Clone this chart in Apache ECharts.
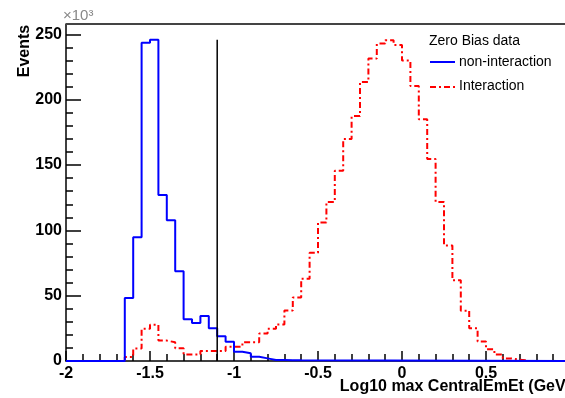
<!DOCTYPE html>
<html>
<head>
<meta charset="utf-8">
<script src="https://cdn.jsdelivr.net/npm/echarts@6/dist/echarts.min.js"></script>
<style>
html,body{margin:0;padding:0;background:#fff;}
#c{width:565px;height:398px;}
</style>
</head>
<body>
<div id="c"></div>
<script>
// ---- data (values in units of 10^3 events) ----
const binWidth = 0.05;
const xMin = -2;
const xMax = 1;
const xTicks = [-2, -1.5, -1, -0.5, 0, 0.5];
const yTicks = [0, 50, 100, 150, 200, 250];

const nonInteractionStart = -1.65;
const nonInteractionValues = [48.2, 94.8, 243.6, 246, 127, 107.7, 68.7, 32, 29, 34.5,
  25, 19, 14.8, 7, 6, 3.3, 2, 0.8, 0.7, 0.6, 0.5];

const interactionStart = -1.65;
const interactionValues = [3, 9.5, 24.6, 27.7, 15.6, 14.4, 9.8, 5, 5, 7.7,
  7.7, 7.7, 11, 11, 14.4, 14.4, 21, 24.6, 28, 38.7,
  48.7, 63, 82.8, 106, 121.8, 145.6, 170, 187.5, 213.6, 231.5,
  243, 245.6, 242, 230, 210.5, 185, 154.6, 121.8, 88.5, 61.8,
  38.5, 25, 14.9, 9, 5, 2, 1, 0.5];

const cutX = -1.1;
const cutTop = 246;

// ---- build step points from bins ----
function r(v){ return Math.round(v*1000)/1000; }
function histPoints(start, vals, extendFrom, extendTo){
  const pts = [];
  if (extendFrom !== undefined) pts.push([extendFrom, 0]);
  else pts.push([start, 0]);
  vals.forEach((v,i)=>pts.push([r(start + i*binWidth), v]));
  pts.push([r(start + vals.length*binWidth), 0]);
  if (extendTo !== undefined) pts.push([extendTo, 0]);
  return pts;
}

const chart = echarts.init(document.getElementById('c'), null, {renderer:'canvas'});
const FONT = 'Liberation Sans, Arial, Helvetica, sans-serif';
const RED_DASH = [6,3,2,3];

chart.setOption({
  animation:false,
  backgroundColor:'#fff',
  grid:{left:66, top:24, width:504, height:337, show:false, outerBoundsMode:'none', containLabel:false},
  xAxis:{
    type:'value', min:xMin, max:xMax, interval:0.5,
    axisLine:{lineStyle:{color:'#000', width:1.5}},
    axisTick:{inside:true, length:10, lineStyle:{color:'#000', width:1.5}},
    minorTick:{show:true, splitNumber:5, length:7, lineStyle:{color:'#000', width:1.5}},
    splitLine:{show:false},
    axisLabel:{margin:5, fontSize:16, fontWeight:'bold', color:'#000', fontFamily:FONT,
      formatter:function(v){ return xTicks.some(t=>Math.abs(t-v)<1e-6) ? String(v) : ''; }}
  },
  yAxis:{
    type:'value', min:0, max:258, interval:50,
    axisLine:{show:true, onZero:false, lineStyle:{color:'#000', width:1.5}},
    axisTick:{inside:true, length:15, lineStyle:{color:'#000', width:1.5}},
    minorTick:{show:true, splitNumber:5, length:7, lineStyle:{color:'#000', width:1.5}},
    splitLine:{show:false},
    axisLabel:{margin:4, fontSize:16, fontWeight:'bold', color:'#000', fontFamily:FONT,
      formatter:function(v){ return yTicks.indexOf(v) >= 0 ? String(v) : ''; }}
  },
  graphic:[
    {type:'line', shape:{x1:66, y1:24, x2:565, y2:24}, style:{stroke:'#444', lineWidth:2}, z:10},
    {type:'text', left:429, top:34, style:{text:'Zero Bias data', fontSize:14, fill:'#000', fontFamily:FONT}},
    {type:'line', shape:{x1:430, y1:62, x2:455, y2:62}, style:{stroke:'#0000ff', lineWidth:2}},
    {type:'text', x:459, y:62, style:{text:'non-interaction', fontSize:14, fill:'#000', fontFamily:FONT, verticalAlign:'middle'}},
    {type:'line', shape:{x1:430, y1:87, x2:455, y2:87}, style:{stroke:'#ff0000', lineWidth:2, lineDash:RED_DASH}},
    {type:'text', x:459, y:86, style:{text:'Interaction', fontSize:14, fill:'#000', fontFamily:FONT, verticalAlign:'middle'}},
    {type:'text', x:25, y:51, rotation:Math.PI/2, style:{text:'Events', fontSize:16, fontWeight:'bold', fill:'#000', fontFamily:FONT, align:'center', verticalAlign:'middle'}},
    {type:'text', left:63, top:8, style:{text:'×10³', fontSize:15, fill:'#888', fontFamily:FONT}},
    {type:'text', x:571, y:387, style:{text:'Log10 max CentralEmEt (GeV)', fontSize:16, fontWeight:'bold', fill:'#000', fontFamily:FONT, align:'right', verticalAlign:'middle'}}
  ],
  series:[
    {
      name:'Interaction', type:'line', step:'end', symbol:'none', z:3,
      data:histPoints(interactionStart, interactionValues),
      lineStyle:{color:'#ff0000', width:2, type:RED_DASH},
      itemStyle:{color:'#ff0000'}
    },
    {
      name:'non-interaction', type:'line', step:'end', symbol:'none', z:4,
      data:histPoints(nonInteractionStart, nonInteractionValues, xMin, xMax),
      lineStyle:{color:'#0000ff', width:2},
      itemStyle:{color:'#0000ff'}
    },
    {
      name:'cut', type:'line', symbol:'none', z:5,
      data:[[cutX,0],[cutX,cutTop]],
      lineStyle:{color:'#000', width:1.5}
    }
  ]
});
</script>
</body>
</html>
